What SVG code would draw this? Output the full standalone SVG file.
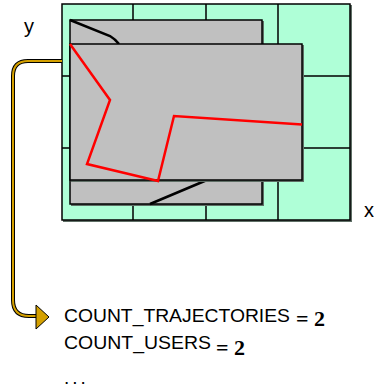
<svg xmlns="http://www.w3.org/2000/svg" width="374" height="388" viewBox="0 0 374 388">
<style>
.grid{fill:#AFFFD7;stroke:#000;stroke-width:1.5}
.gl{stroke:#000;stroke-width:1.5;fill:none}
.box{fill:#C0C0C0;stroke:#000;stroke-width:1.5}
.shadow{fill:#5F6F66}
.t{font-family:"Liberation Sans",Arial,sans-serif;font-size:19px;fill:#000}
.eq{font-family:"Liberation Serif","Times New Roman",serif;font-size:22px;font-weight:bold;fill:#000}
</style>
<g id="grid">
<rect class="shadow" x="63" y="5" width="289" height="217"/>
<rect class="grid" x="62" y="4" width="288" height="216"/>
<path class="gl" d="M133 4V220M206 4V220M278 4V220M62 76H350M62 148H350"/>
</g>
<g id="trajectory-back">
<rect class="shadow" x="71" y="21" width="193" height="185"/>
<rect class="box" x="70" y="20" width="192" height="184"/>
<path d="M70 20L110 36Q115 39 119 44M150 204L207 180" stroke="#000" stroke-width="2.5" fill="none"/>
</g>
<g id="trajectory-front">
<rect class="shadow" x="71" y="45" width="233" height="137"/>
<rect class="box" x="70" y="44" width="232" height="136"/>
<polyline points="70,44 110,100 87,164 158,181 174,116 302,124.5" stroke="#FF0000" stroke-width="2.5" fill="none" stroke-linejoin="miter"/>
</g>
<g id="connectors">
<path d="M62 61H28Q13 61 13 76V300Q13 316 29 316H38" stroke="#000" stroke-width="4" fill="none"/>
<path d="M62 61H28Q13 61 13 76V300Q13 316 29 316H38" stroke="#D4A000" stroke-width="2" fill="none"/>
<polygon points="36,305 49,317 36,329" fill="#D4A000" stroke="#000" stroke-width="1"/>
</g>
<g id="labels">
<text class="t" x="24" y="33" style="font-size:20px">y</text>
<text class="t" x="364" y="217" style="font-size:20px">x</text>
<text class="t" x="64" y="322" textLength="226" lengthAdjust="spacingAndGlyphs">COUNT_TRAJECTORIES</text>
<text class="eq" x="296" y="326">= 2</text>
<text class="t" x="64" y="349" textLength="147" lengthAdjust="spacingAndGlyphs">COUNT_USERS</text>
<text class="eq" x="216" y="355">= 2</text>
<text class="t" x="64" y="384" style="letter-spacing:3px">...</text>
</g>
</svg>
